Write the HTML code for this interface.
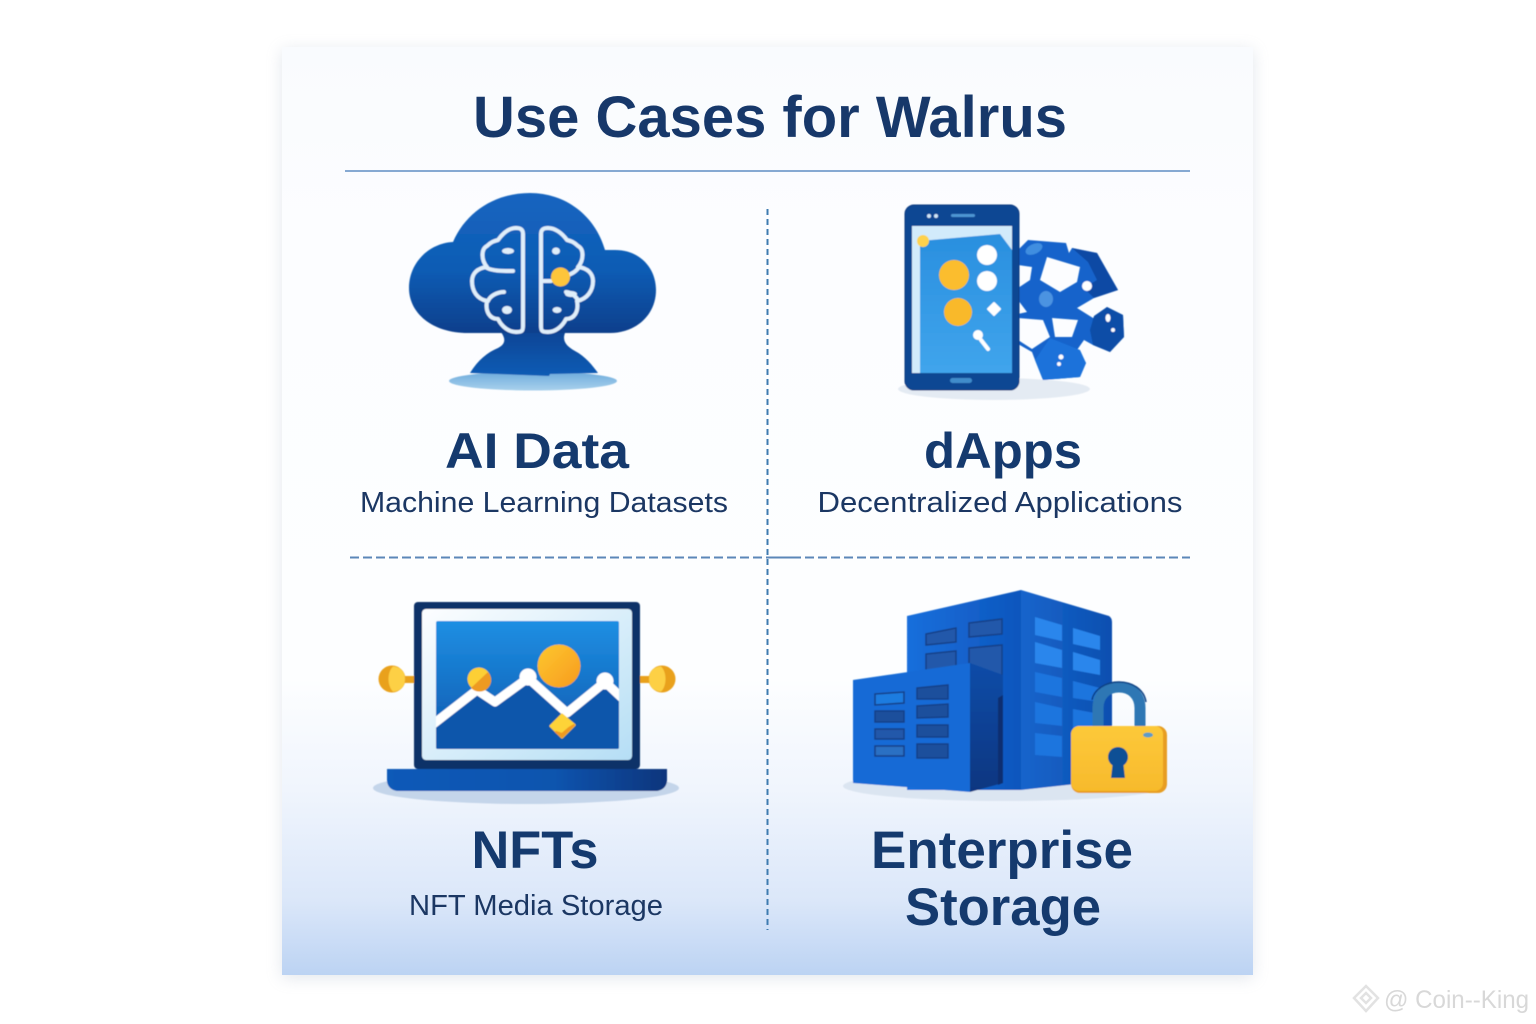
<!DOCTYPE html>
<html><head><meta charset="utf-8"><style>
html,body{margin:0;padding:0;background:#fff;width:1536px;height:1024px;overflow:hidden}
svg{display:block}
text{font-family:"Liberation Sans",sans-serif}
</style></head><body>
<svg width="1536" height="1024" viewBox="0 0 1536 1024" xmlns="http://www.w3.org/2000/svg">
<defs>
<linearGradient id="panel" x1="0" y1="0" x2="0" y2="1">
<stop offset="0" stop-color="#f9fbfe"/><stop offset=".2" stop-color="#fcfdff"/><stop offset=".68" stop-color="#fdfeff"/><stop offset=".8" stop-color="#f0f5fd"/><stop offset=".92" stop-color="#dbe7f9"/><stop offset="1" stop-color="#bcd3f3"/>
</linearGradient>
<filter id="sh" x="-10%" y="-10%" width="120%" height="120%"><feGaussianBlur stdDeviation="8"/></filter>
<filter id="soft" x="-5%" y="-5%" width="110%" height="110%"><feGaussianBlur stdDeviation="0.5"/></filter>
<linearGradient id="cloud" x1="0" y1="0" x2="0" y2="1"><stop offset="0" stop-color="#1565c0"/><stop offset=".55" stop-color="#0f5cb4"/><stop offset="1" stop-color="#0a3f8c"/></linearGradient>
<linearGradient id="ped" x1="0" y1="0" x2="0" y2="1"><stop offset="0" stop-color="#0a4595"/><stop offset="1" stop-color="#0f5cb5"/></linearGradient>
<linearGradient id="ell" x1="0" y1="0" x2="0" y2="1"><stop offset="0" stop-color="#6cabdc"/><stop offset="1" stop-color="#a9d1ec"/></linearGradient>
<linearGradient id="scr" x1="0" y1="0" x2="0" y2="1"><stop offset="0" stop-color="#2a8fdf"/><stop offset="1" stop-color="#40a5ec"/></linearGradient>
<linearGradient id="pic" x1="0" y1="0" x2="0" y2="1"><stop offset="0" stop-color="#1f8fe3"/><stop offset="1" stop-color="#0b57ad"/></linearGradient>
<linearGradient id="frame" x1="0" y1="0" x2="1" y2="1"><stop offset="0" stop-color="#fdfeff"/><stop offset="1" stop-color="#b5def5"/></linearGradient>
<linearGradient id="base" x1="0" y1="0" x2="1" y2="0"><stop offset="0" stop-color="#0f5ab8"/><stop offset=".6" stop-color="#0f54ae"/><stop offset="1" stop-color="#0a357c"/></linearGradient>
<linearGradient id="sun" x1="0" y1="0" x2="1" y2="1"><stop offset="0" stop-color="#fdc82f"/><stop offset="1" stop-color="#f79a1f"/></linearGradient>
<linearGradient id="bf" x1="0" y1="0" x2="1" y2="0"><stop offset="0" stop-color="#1a6fdc"/><stop offset="1" stop-color="#0d56bd"/></linearGradient>
<linearGradient id="bs" x1="0" y1="0" x2="1" y2="0"><stop offset="0" stop-color="#1565cc"/><stop offset="1" stop-color="#0e4fb0"/></linearGradient>
<linearGradient id="side" x1="0" y1="0" x2="0" y2="1"><stop offset="0" stop-color="#0c4ca8"/><stop offset="1" stop-color="#0a3680"/></linearGradient>
<linearGradient id="lock" x1="0" y1="0" x2="0" y2="1"><stop offset="0" stop-color="#fdc93a"/><stop offset="1" stop-color="#f7ba2c"/></linearGradient>
<clipPath id="picClip"><rect x="436" y="621" width="183" height="128" rx="2"/></clipPath>
</defs>

<rect width="1536" height="1024" fill="#fff"/>
<rect x="282" y="50" width="971" height="928" fill="#9aa8bd" opacity=".28" filter="url(#sh)"/>
<rect x="282" y="47" width="971" height="928" fill="url(#panel)"/>

<text x="770" y="137" text-anchor="middle" font-size="58" font-weight="700" fill="#17386a" textLength="594" lengthAdjust="spacingAndGlyphs">Use Cases for Walrus</text>
<rect x="345" y="170" width="845" height="2" fill="#86a9d2"/>
<line x1="767.500" y1="209" x2="767.500" y2="930" stroke="#3e7bb0" stroke-width="2" stroke-dasharray="6 4"/>
<line x1="350" y1="557.500" x2="1190" y2="557.500" stroke="#5b87b8" stroke-width="2" stroke-dasharray="9 4"/>
<line x1="768" y1="557.500" x2="792" y2="557.500" stroke="#5b87b8" stroke-width="2"/>

<g filter="url(#soft)">
<!-- AI cloud -->
<ellipse cx="533" cy="381" rx="84" ry="9.500" fill="url(#ell)"/>
<path d="M470,373C478,360 488,352 498,348C506,344 506,338 500,331L566,331C561,340 566,346 575,351C585,356 593,366 598,373L550,374L549,376L470,373Z" fill="url(#ped)"/>
<path d="M468,333C432,333 409,313 409,288C409,262 430,243 453,242C466,212 495,193 530,193C565,193 595,215 605,250L615,250C640,250 656,268 656,290C656,315 636,333 610,333Z" fill="url(#cloud)"/>
<g fill="none" stroke="#dfeefa" stroke-width="4" stroke-linecap="round" stroke-linejoin="round">
<path d="M516,228C522,228 523,231 523,234V326C523,331 522,332 516,332C509,332 502,327 498,319C490,319 485,312 487,301C477,299 472,291 472,281C472,274 477,268 487,267C481,260 481,249 487,246C491,242 494,241 498,240C503,233 509,228 516,228Z"/>
<path d="M487,268C493,271 501,271 513,271M488,301C490,296 497,292 504,292"/>
<path d="M548,228C542,228 541,231 541,234V326C541,331 542,332 548,332C555,332 562,327 566,319C574,319 579,312 577,301C587,299 593,291 593,281C593,274 588,268 578,267C584,260 584,249 578,246C574,242 571,241 567,240C562,233 555,228 548,228Z"/>
<path d="M542,281H551M579,267C576,272 571,274 566,276M578,300C574,294 569,292 566,292"/>
</g>
<g fill="#dfeefa">
<ellipse cx="508" cy="251" rx="6" ry="3"/><ellipse cx="507" cy="310" rx="5" ry="4"/>
<ellipse cx="556" cy="251" rx="4" ry="3.500"/><ellipse cx="557" cy="310" rx="4.500" ry="3"/>
<ellipse cx="571" cy="294" rx="6" ry="3"/>
</g>
<circle cx="560.500" cy="277" r="9.500" fill="#fdc53a"/>

<!-- Phone -->
<ellipse cx="994" cy="389" rx="96" ry="11" fill="#e4ebf3"/>
<path fill-rule="evenodd" fill="#1463cb" d="M1018,250L1028,240L1066,243L1069,253L1072,248L1097,253L1118,290L1094,298L1077,308L1093,318L1107,307L1123,315L1124,337L1110,352L1093,345L1084,340L1077,350L1086,363L1080,377L1043,380L1035,360L1032,352L1018,344Z
M1047,257L1080,267L1077,282L1060,292L1040,280Z
M1018,265L1032,267L1030,280L1018,288Z
M1052,318L1078,320L1072,337L1055,337Z
M1018,318L1043,320L1050,337L1032,349L1018,340Z
M1018,300L1027,312L1018,314Z"/>
<path d="M1072,248L1097,253L1118,290L1094,298L1084,288L1097,280L1088,262Z" fill="#0d49a4"/>
<circle cx="1087" cy="286" r="5" fill="#fff"/>
<ellipse cx="1046" cy="299" rx="7" ry="8" fill="#4c93e1"/>
<ellipse cx="1034" cy="249" rx="9" ry="5" fill="#3f8ee0" transform="rotate(-25 1034 249)"/>
<path d="M1107,307L1123,315L1124,337L1110,352L1093,345L1090,330L1094,316Z" fill="#0e4da7"/>
<ellipse cx="1108" cy="318" rx="2.500" ry="4" fill="#fff"/><circle cx="1113" cy="330" r="2" fill="#fff"/>
<path d="M1050,338L1080,350L1086,363L1080,377L1043,380L1035,360Z" fill="#1a72da"/>
<circle cx="1061" cy="357" r="2.500" fill="#fff"/><circle cx="1059" cy="364" r="2" fill="#fff"/>
<rect x="905" y="205" width="114" height="185" rx="9" fill="#0c4793" stroke="#0a3a80" stroke-width="1"/>
<rect x="912" y="226" width="100" height="147" fill="#d2ebfb"/>
<path d="M920,241L1000,234L1012,250V373H920Z" fill="url(#scr)"/>
<circle cx="923" cy="241" r="6" fill="#fdd24d"/>
<circle cx="954" cy="275" r="15" fill="#fbbd2d"/>
<circle cx="958" cy="312" r="14" fill="#f9b92c"/>
<circle cx="987" cy="255" r="10" fill="#fff"/>
<circle cx="987" cy="281" r="10" fill="#fff"/>
<path d="M994,303L1000,309L994,315L988,309Z" fill="#fff" stroke="#fff" stroke-width="2" stroke-linejoin="round"/>
<circle cx="978" cy="335" r="5" fill="#fff"/><line x1="981" y1="340" x2="988" y2="349" stroke="#fff" stroke-width="4" stroke-linecap="round"/>
<circle cx="929" cy="216" r="2" fill="#cfe6f7"/><circle cx="936" cy="216" r="2" fill="#cfe6f7"/>
<rect x="951" y="214" width="24" height="3" rx="1.500" fill="#4e95d3"/>
<rect x="950" y="378" width="22" height="5" rx="2.500" fill="#3f8ccb"/>

<!-- NFT laptop -->
<ellipse cx="526" cy="788" rx="153" ry="16" fill="#c4d5ea"/>
<g fill="#e9a11f"><rect x="401" y="676" width="14" height="7"/><rect x="640" y="676" width="14" height="7"/>
<circle cx="392" cy="679" r="13.500"/><circle cx="662" cy="679" r="13.500"/></g>
<path d="M393,666.500C402,667 405,673 405,679C405,685 402,691 393,691.500C387,686 387,672 393,666.500Z" fill="#fdd044"/>
<path d="M661,666.500C667,672 667,686 661,691.500C652,691 649,685 649,679C649,673 652,667 661,666.500Z" fill="#fdd044"/>
<rect x="414" y="602" width="226" height="167" rx="4" fill="#0b3268"/>
<rect x="422" y="609" width="210" height="151" rx="4" fill="url(#frame)"/>
<rect x="436" y="621" width="183" height="128" rx="2" fill="url(#pic)"/>
<g clip-path="url(#picClip)">
<path d="M436,722L477,690L495,702L528,678L567,713L605,682L619,695V749H436Z" fill="#0b56ab"/>
<path d="M432,725L477,690L495,702L528,678L567,713L605,682L622,698" fill="none" stroke="#fff" stroke-width="9" stroke-linejoin="round"/>
</g>
<circle cx="528" cy="677" r="8.500" fill="#fff"/><circle cx="605" cy="681" r="8.500" fill="#fff"/>
<circle cx="559" cy="666" r="21.500" fill="url(#sun)"/>
<circle cx="479" cy="679" r="11.500" fill="#fdcf34"/>
<path d="M488,672A11.500,11.500 0 0 1 471,688Z" fill="#ee9a22"/>
<path d="M562,715L574,725L562,737L551,726Z" fill="#fdd338" stroke="#fdd338" stroke-width="3" stroke-linejoin="round"/>
<path d="M569,728L574,725L562,737L556,732L562,734Z" fill="#ef9a20" stroke="#ef9a20" stroke-width="2" stroke-linejoin="round"/>
<path d="M387,769H667V780C667,787 662,791 655,791H399C392,791 387,787 387,780Z" fill="url(#base)"/>

<!-- Enterprise -->
<ellipse cx="1005" cy="786" rx="162" ry="15" fill="#dbe5f1"/>
<path d="M907,616L1021,590V790L907,790Z" fill="url(#bf)"/>
<path d="M1021,590L1109,616Q1112,618 1112,622V780L1021,790Z" fill="url(#bs)"/>
<g fill="#2459aa" stroke="#123f87" stroke-width="1.500">
<path d="M926,634L956,628V642L926,645Z"/><path d="M969,623L1002,619V634L969,637Z"/><path d="M926,654L956,651V680H926Z"/><path d="M969,648L1002,645V675H969Z"/></g>
<g fill="#2a86ec">
<path d="M1035,617L1062,625V641L1035,635Z"/><path d="M1073,628L1100,636V650L1073,644Z"/>
<path d="M1035,642L1062,650V668L1035,663Z"/><path d="M1073,652L1100,660V675L1073,670Z"/>
<path d="M1035,672L1062,678V697L1035,692Z" fill="#1f74de"/><path d="M1073,681L1100,688V702L1073,698Z" fill="#1f74de"/>
<path d="M1035,702L1062,708V726L1035,723Z" fill="#1f74de"/><path d="M1073,709L1100,714V740L1073,735Z" fill="#1f74de"/>
<path d="M1035,733L1062,736V757L1035,755Z" fill="#1f74de"/></g>
<path d="M853,680L970,663V792L853,783Z" fill="#136bd6"/>
<path d="M970,663L1003,675V783L970,792Z" fill="url(#side)"/>
<path d="M1003,695V783L998,785V698Z" fill="#082f70"/>
<g fill="#1a4f9c" stroke="#123f87" stroke-width="1.500">
<path d="M875,694L904,692V703L875,705Z" fill="#1f7be0"/><path d="M917,688L948,685V699H917Z"/>
<path d="M875,711H904V722H875Z"/><path d="M917,706L948,704V717L917,718Z"/>
<path d="M875,729H904V739H875Z" fill="#2459aa"/><path d="M917,725H948V737H917Z"/>
<path d="M875,746H904V756H875Z" fill="#2c6fc3"/><path d="M917,744H948V758H917Z"/></g>
<path d="M1098,730V708C1098,695 1107,687 1119,687C1131,687 1140,695 1140,708V730" fill="none" stroke="#2e77b4" stroke-width="11"/>
<path d="M1092,700C1094,689 1106,682 1119,682C1132,682 1144,689 1146,702" fill="none" stroke="#0c3f83" stroke-width="1.500"/>
<rect x="1071" y="726" width="96" height="67" rx="9" fill="#e79d24"/>
<rect x="1071" y="726" width="92" height="65" rx="8" fill="url(#lock)"/>
<ellipse cx="1148" cy="735" rx="5" ry="2.500" fill="#5d9cc6"/>
<circle cx="1118" cy="757" r="10" fill="#0d4f95"/><path d="M1113,760H1123L1125,778H1111Z" fill="#0d4f95"/>
</g>

<!-- Labels -->
<text x="537" y="468" text-anchor="middle" font-size="50" font-weight="700" fill="#153a6e" textLength="184" lengthAdjust="spacingAndGlyphs">AI Data</text>
<text x="544" y="512" text-anchor="middle" font-size="29" fill="#1b3763" textLength="368" lengthAdjust="spacingAndGlyphs">Machine Learning Datasets</text>
<text x="1003" y="468" text-anchor="middle" font-size="50" font-weight="700" fill="#153a6e" textLength="158" lengthAdjust="spacingAndGlyphs">dApps</text>
<text x="1000" y="512" text-anchor="middle" font-size="29" fill="#1b3763" textLength="365" lengthAdjust="spacingAndGlyphs">Decentralized Applications</text>
<text x="535" y="868" text-anchor="middle" font-size="53" font-weight="700" fill="#153a6e" textLength="127" lengthAdjust="spacingAndGlyphs">NFTs</text>
<text x="536" y="915" text-anchor="middle" font-size="29" fill="#1b3763" textLength="254" lengthAdjust="spacingAndGlyphs">NFT Media Storage</text>
<text x="1002" y="868" text-anchor="middle" font-size="53" font-weight="700" fill="#153a6e" textLength="262" lengthAdjust="spacingAndGlyphs">Enterprise</text>
<text x="1003" y="925" text-anchor="middle" font-size="53" font-weight="700" fill="#153a6e" textLength="196" lengthAdjust="spacingAndGlyphs">Storage</text>

<!-- Watermark -->
<g fill="none" stroke="#e2e2e2" stroke-width="2.500"><path d="M1366,986L1378,998L1366,1011L1354,998Z"/><path d="M1361,998L1366,993L1371,998L1366,1003Z"/></g>
<text x="1384" y="1008" font-size="25" fill="#d8d8d8" textLength="145" lengthAdjust="spacingAndGlyphs">@ Coin--King</text>
</svg>
</body></html>
